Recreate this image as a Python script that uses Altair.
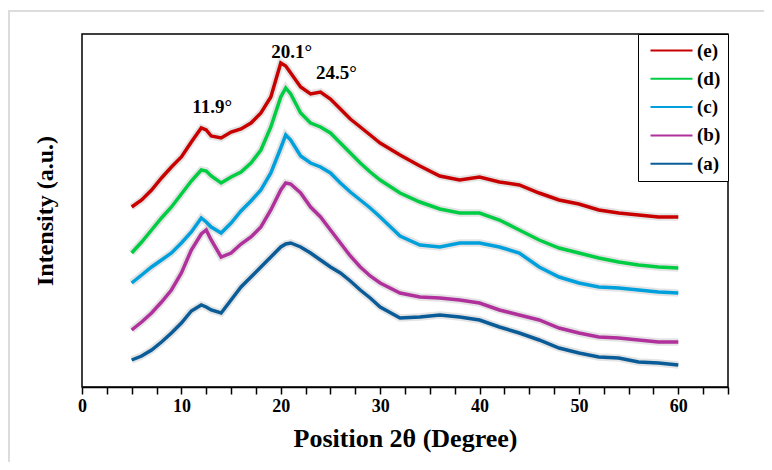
import altair as alt
import pandas as pd

# 2-theta positions (degrees) at which the curves were read
two_theta = [5, 6, 7, 8, 9, 10, 11, 12, 12.5, 13, 14, 15, 16, 17, 18, 19, 20, 20.5, 21,
             22, 23, 24, 25, 26, 27, 28, 29, 30, 32, 34, 36, 38, 40, 42, 44, 46, 48,
             50, 52, 54, 56, 58, 60]

# stacked intensities (a.u.)
int_e = [180, 187, 197, 209, 220, 230, 245, 259, 257, 251, 249, 255, 258, 264, 274, 290, 324, 321, 314,
         300, 293, 295, 288, 278, 268, 260, 252, 244, 232, 221, 211, 207, 210, 205, 202, 194, 187,
         183, 177, 174, 172, 170, 170]
int_d = [134, 145, 157, 169, 180, 193, 206, 217, 216, 211, 204, 210, 215, 224, 237, 260, 290, 299, 293,
         274, 264, 260, 254, 244, 234, 224, 215, 207, 194, 185, 178, 174, 174, 167, 157, 147, 139,
         134, 129, 125, 122, 120, 119]
int_c = [104, 112, 120, 127, 134, 144, 155, 169, 165, 160, 154, 164, 176, 186, 197, 214, 239, 252, 247,
         231, 224, 220, 214, 204, 195, 187, 179, 170, 151, 142, 140, 144, 144, 140, 134, 120, 110,
         104, 100, 99, 97, 95, 94]
int_b = [57, 65, 74, 85, 97, 114, 137, 153, 157, 147, 130, 134, 143, 150, 160, 177, 197, 204, 203,
         194, 180, 170, 157, 144, 131, 120, 111, 104, 94, 90, 89, 87, 84, 77, 72, 67, 59,
         54, 50, 49, 47, 45, 45]
int_a = [27, 31, 37, 45, 54, 64, 76, 82, 80, 77, 74, 87, 100, 110, 120, 130, 140, 143, 144,
         140, 134, 127, 120, 114, 106, 97, 89, 80, 69, 70, 72, 70, 67, 60, 54, 47, 39,
         34, 30, 29, 25, 24, 22]

series_names = ["(e)", "(d)", "(c)", "(b)", "(a)"]
series_values = [int_e, int_d, int_c, int_b, int_a]
series_colors = ["#C80000", "#00CC44", "#00A0DC", "#B0309C", "#0A5C98"]

ann_labels = ["11.9°", "20.1°", "24.5°"]
ann_x = [13.1, 21.1, 25.6]
ann_y = [280, 335, 314]

x_ticks = [i * 2.5 for i in range(27)]

rows = []
for name, vals in zip(series_names, series_values):
    for t, v in zip(two_theta, vals):
        rows.append({"theta": t, "intensity": v, "sample": name})
df = pd.DataFrame(rows)
ann_df = pd.DataFrame({"theta": ann_x, "intensity": ann_y, "label": ann_labels})

FONT = "Liberation Serif"

xscale = alt.Scale(domain=[0, 65], nice=False, zero=False)
yscale = alt.Scale(domain=[0, 353], nice=False, zero=False)

x_enc = alt.X("theta:Q", scale=xscale,
              axis=alt.Axis(values=x_ticks,
                            labelExpr="datum.value % 10 == 0 ? datum.label : ''",
                            title="Position  2θ (Degree)", grid=False,
                            tickSize=7, tickColor="black", tickWidth=1.5,
                            domainColor="black", domainWidth=1.5,
                            labelFont=FONT, labelFontSize=18, labelFontWeight="bold",
                            labelColor="black", labelPadding=3,
                            titleFont=FONT, titleFontSize=26, titleFontWeight="bold",
                            titleColor="black", titlePadding=10, labelFlush=False))
y_enc = alt.Y("intensity:Q", scale=yscale,
              axis=alt.Axis(title="Intensity (a.u.)", labels=False, ticks=False, grid=False,
                            domain=False, titleFont=FONT, titleFontSize=24,
                            titleFontWeight="bold", titleColor="black", titlePadding=25))

frame = alt.Chart(pd.DataFrame({"a": [0]})).mark_rect(
    fillOpacity=0, stroke="#dcdcdc", strokeWidth=2
).encode(x=alt.value(-73), x2=alt.value(900), y=alt.value(-23), y2=alt.value(900))

shadow = alt.Chart(df).mark_line(strokeWidth=7.5, opacity=0.16, color="#555555").encode(
    x=x_enc, y=y_enc, detail="sample:N"
)

lines = alt.Chart(df).mark_line(strokeWidth=3.5).encode(
    x=x_enc, y=y_enc,
    color=alt.Color("sample:N",
                    scale=alt.Scale(domain=series_names, range=series_colors),
                    legend=alt.Legend(title=None, orient="none", legendX=556, legendY=0,
                                      symbolType="M-1,0H5", symbolSize=196,
                                      symbolStrokeWidth=2, symbolOffset=3,
                                      labelFont=FONT, labelFontSize=19,
                                      labelFontWeight="bold", labelColor="black",
                                      labelOffset=30, strokeColor="black",
                                      padding=7, rowPadding=8.3, fillColor="white"))
)

ann = alt.Chart(ann_df).mark_text(font=FONT, fontSize=19, fontWeight="bold", color="black").encode(
    x=x_enc, y=y_enc, text="label:N"
)

chart = alt.layer(frame, shadow, lines, ann).properties(
    width=646, height=353,
    padding={"left": 74, "top": 26, "right": 36, "bottom": 75},
    autosize=alt.AutoSizeParams(type="none"),
    background="white",
).configure_view(stroke="black", strokeWidth=1.5)

chart.save("out.html", embed_options={"renderer": "svg", "actions": False})
